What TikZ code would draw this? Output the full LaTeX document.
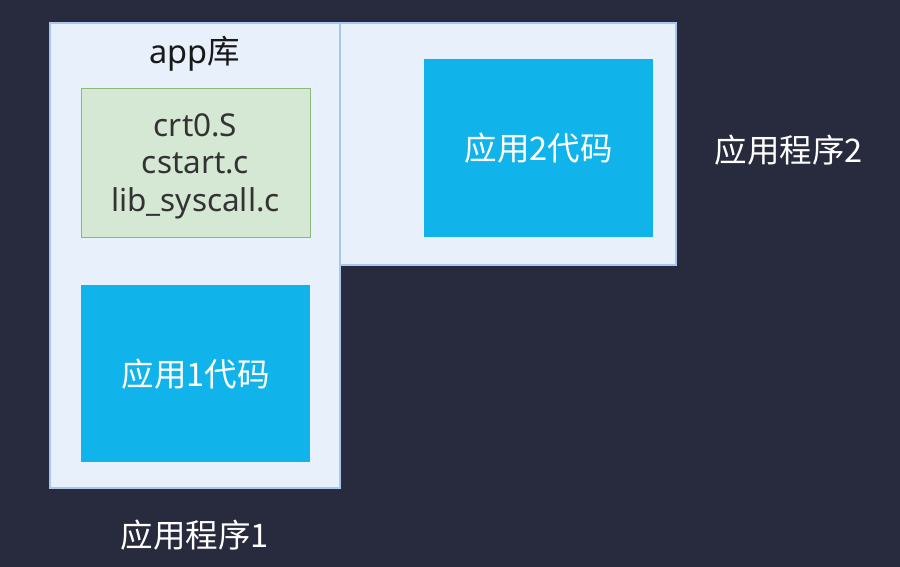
\documentclass[tikz,border=0pt]{standalone}
\usepackage{fontspec}
\setmainfont{Noto Sans}
\newfontfamily\cjk{Noto Sans CJK SC}
\definecolor{bgc}{HTML}{282B3D}
\definecolor{outfill}{HTML}{E8F0FC}
\definecolor{outline}{HTML}{A9C6EC}
\definecolor{bluefill}{HTML}{10B4EA}
\definecolor{greenfill}{HTML}{D5E8D4}
\definecolor{greenline}{HTML}{8DB878}
\begin{document}
\begin{tikzpicture}[x=1pt,y=-1pt,
  outerbox/.style={draw=outline,line width=1.6pt,fill=outfill},
  codebox/.style={fill=bluefill,draw=none},
  libbox/.style={fill=greenfill,draw=greenline,line width=0.8pt},
  lbl/.style={font=\fontsize{32.5}{38}\selectfont\cjk,inner sep=0pt},
  ]
\fill[bgc] (0,0) rectangle (900,567);
\useasboundingbox (0,0) rectangle (900,567);
\draw[outerbox] (50,23) rectangle (340,488);
\draw[outerbox] (340,23) rectangle (676,265);
\node[libbox,minimum width=229pt,minimum height=149pt,anchor=north west] (lib) at (81,88) {};
\node[align=center,text=black!80,font=\fontsize{31.5}{37.5}\selectfont,inner sep=0pt] (libtxt) at (195.5,166) {crt0.S\\cstart.c\\lib\_syscall.c};
\node[lbl,text=black!90] (applib) at (195,53.5) {{\fontspec{Noto Sans}app}库};
\node[codebox,minimum width=229pt,minimum height=177pt,anchor=north west] (code1) at (81,285) {};
\node[lbl,text=white] (code1txt) at (code1.center) {应用1代码};
\node[codebox,minimum width=229pt,minimum height=178pt,anchor=north west] (code2) at (424,59) {};
\node[lbl,text=white] (code2txt) at (code2.center) {应用2代码};
\node[lbl,text=white] (prog2) at (789,150) {应用程序2};
\node[lbl,text=white] (prog1) at (195,535) {应用程序1};
\end{tikzpicture}
\end{document}
